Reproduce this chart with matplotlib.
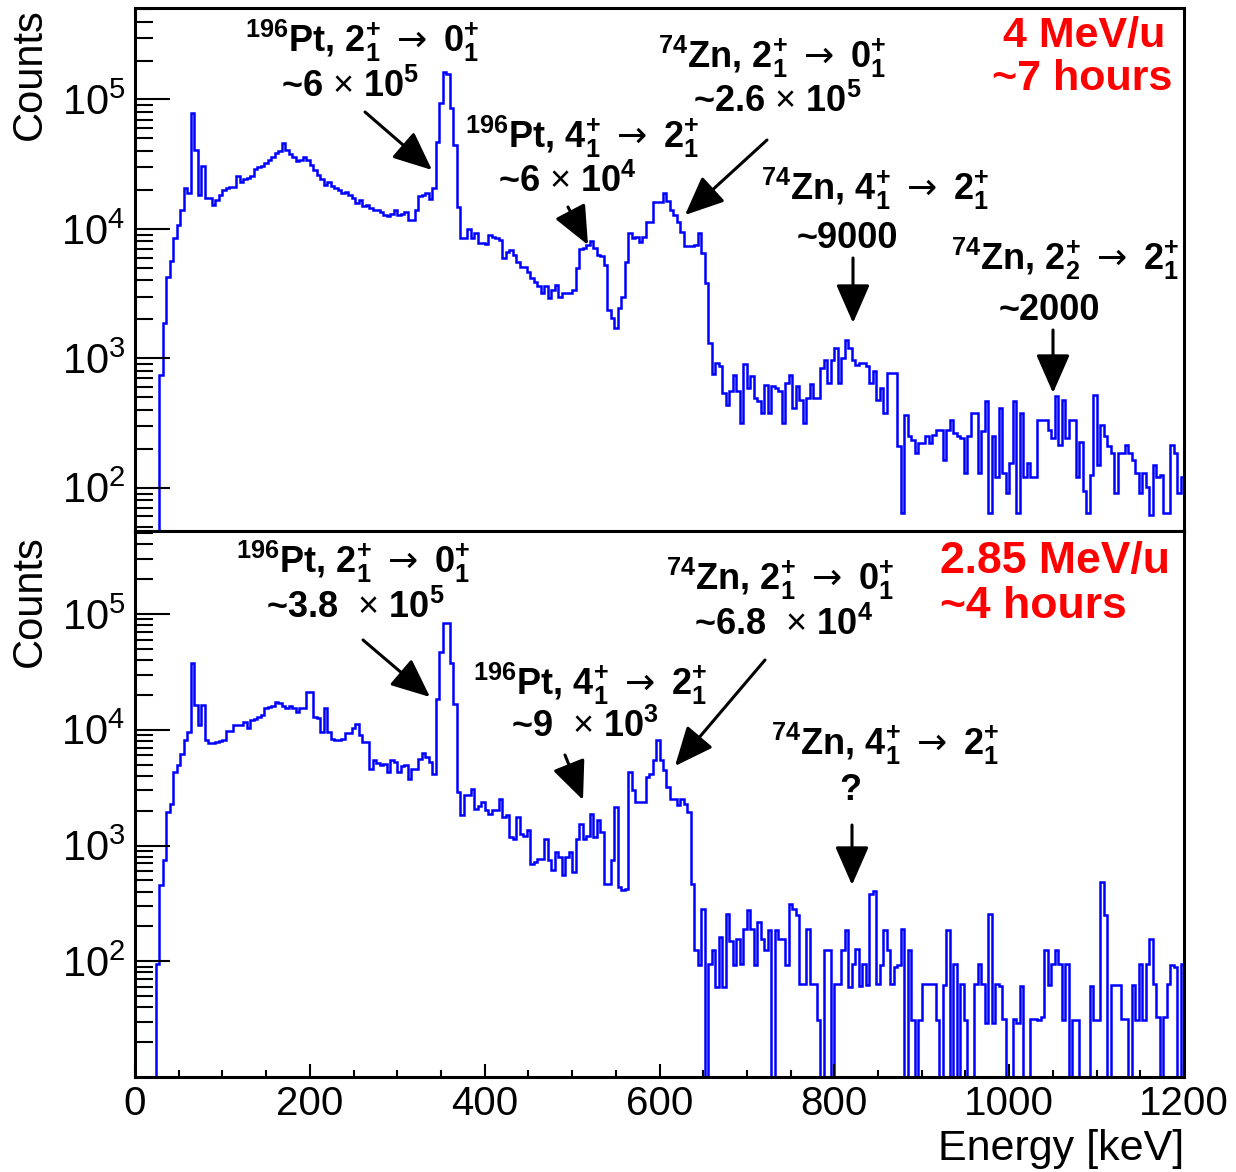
import numpy as np
import matplotlib.pyplot as plt
from matplotlib.ticker import LogLocator, NullFormatter, MultipleLocator

plt.rcParams['font.family'] = ['Liberation Sans', 'DejaVu Sans']
plt.rcParams['mathtext.fontset'] = 'custom'
plt.rcParams['mathtext.rm'] = 'Liberation Sans'
plt.rcParams['mathtext.it'] = 'Liberation Sans:italic'
plt.rcParams['mathtext.bf'] = 'Liberation Sans:bold'
plt.rcParams['mathtext.sf'] = 'DejaVu Sans'

# 4 keV bins, 0 - 1200 keV
bin_width = 4

# 4 MeV/u, ~7 hours
top_counts = [
    0, 0, 0, 0, 0, 0, 0, 745, 1870, 4240,
    5600, 8470, 10700, 14000, 20600, 18800, 78200, 40700, 18300, 30600,
    17300, 17300, 15300, 16700, 18300, 20000, 20600, 21000, 21000, 25400,
    23200, 24200, 24600, 25400, 28900, 29900, 30600, 32100, 34100, 36200,
    38900, 39700, 46500, 40700, 37900, 36200, 33700, 34100, 35800, 34100,
    31200, 28600, 26100, 24200, 21900, 23200, 21500, 20600, 20000, 19100,
    19400, 18300, 17300, 15800, 16600, 14900, 15300, 14400, 14100, 13900,
    13400, 12800, 12600, 13100, 13900, 12800, 13100, 13600, 11700, 11700,
    14000, 18000, 18300, 18800, 16900, 20600, 47200, 93800, 163000, 158000,
    85500, 44500, 14800, 8470, 8470, 9930, 8470, 9270, 7840, 7750,
    7660, 9000, 8630, 8470, 8220, 5930, 6680, 6880, 6300, 5590,
    5110, 5060, 4680, 4160, 3920, 3590, 3190, 3590, 2920, 3380,
    3700, 3000, 3190, 3170, 3190, 3380, 4970, 6970, 7060, 7520,
    8130, 7060, 6300, 6190, 5270, 2370, 2040, 1710, 2440, 3000,
    5590, 9270, 8470, 8630, 7980, 8630, 11400, 11400, 16000, 16000,
    16000, 19100, 16300, 13900, 12800, 11400, 9400, 7400, 7400, 7400,
    7520, 9270, 6480, 3800, 1310, 760, 918, 865, 538, 438,
    554, 746, 554, 316, 908, 589, 725, 492, 464, 377,
    624, 377, 606, 589, 554, 316, 643, 746, 412, 606,
    478, 316, 492, 636, 492, 492, 840, 973, 643, 962,
    1200, 650, 1000, 1390, 1200, 973, 891, 918, 918, 865,
    643, 791, 478, 589, 377, 768, 768, 768, 209, 64,
    366, 249, 235, 185, 221, 221, 252, 221, 257, 277,
    277, 165, 281, 335, 264, 249, 242, 130, 249, 377,
    377, 130, 272, 464, 64, 249, 122, 412, 130, 91,
    155, 464, 64, 377, 122, 155, 122, 122, 335, 335,
    335, 281, 242, 507, 215, 478, 242, 335, 335, 122,
    224, 94, 64, 126, 522, 151, 307, 249, 209, 185,
    91, 185, 185, 215, 185, 165, 130, 91, 130, 102,
    62, 151, 122, 126, 64, 64, 215, 185, 91, 120,
]

# 2.85 MeV/u, ~4 hours
bottom_counts = [
    0, 0, 0, 0, 0, 0, 94, 453, 755, 1950,
    2270, 4320, 4940, 6150, 8240, 9600, 37400, 16300, 11000, 16300,
    8130, 7710, 7710, 7870, 8000, 8130, 9800, 9800, 11000, 11000,
    11000, 11700, 10300, 12100, 12500, 12900, 13400, 15300, 15600, 16000,
    17500, 17200, 16000, 15300, 16000, 15300, 14300, 15300, 15300, 21300,
    21300, 12900, 12700, 9600, 15300, 9600, 8360, 8130, 8240, 8360,
    9290, 9290, 10300, 11200, 8980, 7870, 7870, 4620, 5460, 5180,
    4940, 5040, 4320, 5460, 5280, 4320, 4830, 4940, 3790, 4620,
    4620, 5640, 6240, 5830, 5280, 4190, 18600, 47200, 84100, 84100,
    37900, 16600, 2900, 1820, 2710, 2710, 3100, 2080, 2180, 2380,
    2040, 1890, 2020, 2020, 2540, 1760, 1820, 1190, 1150, 1760,
    1270, 1220, 1350, 697, 720, 770, 770, 1150, 745, 610,
    879, 796, 552, 796, 879, 590, 1150, 1550, 1150, 1220,
    1890, 1190, 1650, 1310, 468, 468, 745, 2150, 437, 409,
    424, 4330, 3000, 2380, 2380, 2380, 3920, 4190, 5450, 8130,
    5450, 4470, 3210, 2540, 2540, 2230, 2540, 2300, 1950, 468,
    126, 92, 284, 0, 95, 124, 60, 162, 60, 257,
    151, 92, 156, 95, 191, 279, 191, 92, 218, 156,
    124, 187, 0, 187, 156, 156, 92, 314, 284, 249,
    64, 64, 191, 64, 64, 31, 0, 126, 124, 0,
    64, 64, 126, 188, 60, 95, 128, 61, 94, 62,
    384, 404, 64, 92, 188, 126, 64, 90, 92, 191,
    0, 126, 31, 0, 31, 63, 64, 64, 64, 31,
    0, 62, 187, 0, 94, 0, 63, 31, 0, 0,
    64, 94, 64, 29, 254, 29, 63, 61, 32, 0,
    0, 32, 29, 61, 0, 0, 32, 32, 31, 33,
    126, 62, 94, 124, 95, 31, 95, 0, 31, 31,
    0, 0, 0, 61, 31, 31, 484, 249, 0, 62,
    62, 62, 32, 32, 0, 62, 31, 95, 31, 95,
    156, 64, 33, 0, 33, 63, 92, 90, 0, 95,
]

edges = np.arange(0, bin_width * len(top_counts) + 1, bin_width)

W, H = 1236, 1172
fig = plt.figure(figsize=(W / 100, H / 100), dpi=100)


def fp(x, y):
    # pixel position -> figure fraction
    return (x / W, 1 - y / H)


ax1 = fig.add_axes([135 / W, 1 - 531 / H, 1049 / W, 523 / H])
ax2 = fig.add_axes([135 / W, 1 - 1077 / H, 1049 / W, 546 / H])

for ax, counts, ylim in ((ax1, top_counts, (46.3, 5.09e5)),
                         (ax2, bottom_counts, (10, 5.22e5))):
    ax.stairs(counts, edges, color='blue', lw=1.8, baseline=None)
    ax.set_yscale('log')
    ax.set_xlim(0, 1200)
    ax.set_ylim(*ylim)
    ax.set_yticks([1e2, 1e3, 1e4, 1e5])
    ax.yaxis.set_minor_locator(LogLocator(base=10, subs=range(2, 10), numticks=20))
    ax.yaxis.set_minor_formatter(NullFormatter())
    ax.tick_params(axis='y', which='major', direction='in', length=25, width=1.5,
                   labelsize=30, pad=7)
    ax.tick_params(axis='y', which='minor', direction='in', length=13, width=1.5)
    for s in ax.spines.values():
        s.set_linewidth(2.2)

ax1.tick_params(axis='x', which='both', length=0, labelbottom=False)
ax2.set_xticks(range(0, 1201, 200))
ax2.xaxis.set_minor_locator(MultipleLocator(50))
ax2.tick_params(axis='x', which='major', direction='in', length=9.5, width=1.5,
                labelsize=29, pad=6)
ax2.tick_params(axis='x', which='minor', direction='in', length=4.7, width=1.5)
ax2.set_xlabel('Energy [keV]', loc='right', fontsize=31, labelpad=4)

fig.text(*fp(30, 8), 'Counts', rotation=90, ha='center', va='top', fontsize=30)
fig.text(*fp(30, 535), 'Counts', rotation=90, ha='center', va='top', fontsize=30)


def label(x, y, s, size=26, color='black', ha='center'):
    fig.text(*fp(x, y), s, ha=ha, va='baseline', fontsize=size,
             fontweight='bold', color=color)


def arrow(ax, x0, y0, x1, y1):
    ax.annotate('', xy=fp(x1, y1), xycoords='figure fraction',
                xytext=fp(x0, y0), textcoords='figure fraction',
                annotation_clip=False,
                arrowprops=dict(arrowstyle='-|>,head_length=0.8,head_width=0.35',
                                color='black', lw=2.2, mutation_scale=30,
                                shrinkA=0, shrinkB=0))


def level(nucl, a, b, c, d):
    return (r'$^{\mathbf{%s}}$%s, $\mathbf{%s}^{\mathbf{+}}_{\mathbf{%s}}'
            r'\ \mathsf{\rightarrow}\ \mathbf{%s}^{\mathbf{+}}_{\mathbf{%s}}$'
            % (nucl[0], nucl[1], a, b, c, d))


PT = ('196', 'Pt')
ZN = ('74', 'Zn')

# top panel
label(362, 52, level(PT, 2, 1, 0, 1))
label(350, 97, r'~6 $\times$ 10$^{\mathbf{5}}$')
arrow(ax1, 365, 112, 432, 170)
label(582, 148, level(PT, 4, 1, 2, 1))
label(567, 192, r'~6 $\times$ 10$^{\mathbf{4}}$')
arrow(ax1, 568, 207, 588, 245)
label(772, 68, level(ZN, 2, 1, 0, 1))
label(777, 112, r'~2.6 $\times$ 10$^{\mathbf{5}}$')
arrow(ax1, 767, 140, 685, 215)
label(875, 200, level(ZN, 4, 1, 2, 1))
label(847, 248, '~9000')
arrow(ax1, 853, 258, 853, 323)
label(1065, 270, level(ZN, 2, 2, 2, 1))
label(1049, 320, '~2000')
arrow(ax1, 1053, 330, 1053, 393)
label(1165, 47, '4 MeV/u', size=31, color='red', ha='right')
label(1172, 90, '~7 hours', size=31, color='red', ha='right')

# bottom panel
label(353, 573, level(PT, 2, 1, 0, 1))
label(355, 618, r'~3.8  $\times$ 10$^{\mathbf{5}}$')
arrow(ax2, 363, 640, 430, 697)
label(590, 695, level(PT, 4, 1, 2, 1))
label(585, 737, r'~9  $\times$ 10$^{\mathbf{3}}$')
arrow(ax2, 565, 755, 583, 800)
label(780, 590, level(ZN, 2, 1, 0, 1))
label(783, 635, r'~6.8  $\times$ 10$^{\mathbf{4}}$')
arrow(ax2, 765, 660, 675, 766)
label(885, 755, level(ZN, 4, 1, 2, 1))
label(850, 800, '?')
arrow(ax2, 852, 825, 852, 885)
label(940, 573, '2.85 MeV/u', size=32, color='red', ha='left')
label(940, 618, '~4 hours', size=32, color='red', ha='left')

fig.savefig('out.png', dpi=100)
